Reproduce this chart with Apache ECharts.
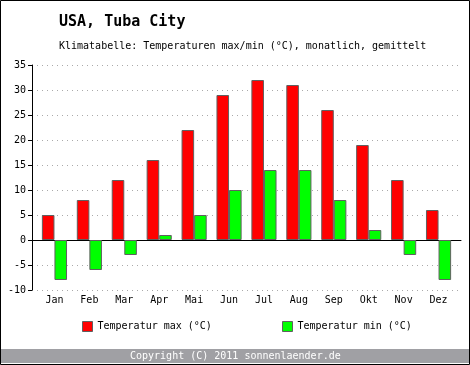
<!DOCTYPE html>
<html><head><meta charset="utf-8">
<script src="https://cdn.jsdelivr.net/npm/echarts@6/dist/echarts.min.js"></script>
<style>html,body{margin:0;padding:0;background:#fff}#c{width:470px;height:365px}</style>
</head><body><div id="c"></div>
<script>
const months = ['Jan','Feb','Mar','Apr','Mai','Jun','Jul','Aug','Sep','Okt','Nov','Dez'];
const tMax = [5,8,12,16,22,29,32,31,26,19,12,6];
const tMin = [-8,-6,-3,1,5,10,14,14,8,2,-3,-8];
const yTicks = {min:-10, max:35, interval:5};
const nameMax = 'Temperatur max (°C)';
const nameMin = 'Temperatur min (°C)';
const FONT = '"DejaVu Sans Mono", "Liberation Mono", monospace';
const chart = echarts.init(document.getElementById('c'), null, {renderer:'canvas'});
chart.setOption({
  animation:false,
  backgroundColor:'#fff',
  textStyle:{fontFamily:FONT},
  title:[
    {text:'USA, Tuba City', left:59, top:15, padding:0, textStyle:{fontFamily:FONT, fontSize:15, fontWeight:'bold', color:'#000'}},
    {text:'Klimatabelle: Temperaturen max/min (°C), monatlich, gemittelt', left:59, top:41, padding:0, textStyle:{fontFamily:FONT, fontSize:10, fontWeight:'normal', color:'#000'}},
    {text:'Copyright (C) 2011 sonnenlaender.de', left:130, top:351, padding:0, textStyle:{fontFamily:FONT, fontSize:10, fontWeight:'normal', color:'#fff'}}
  ],
  legend:[
    {data:[nameMax], left:82, top:321, padding:0, itemWidth:10, itemHeight:10, itemGap:0, icon:'rect',
     itemStyle:{borderColor:'#606060', borderWidth:1}, textStyle:{fontFamily:FONT, fontSize:10, color:'#000'}},
    {data:[nameMin], left:282, top:321, padding:0, itemWidth:10, itemHeight:10, itemGap:0, icon:'rect',
     itemStyle:{borderColor:'#606060', borderWidth:1}, textStyle:{fontFamily:FONT, fontSize:10, color:'#000'}}
  ],
  grid:[
    {left:32, right:9, top:65, bottom:75},
    {left:37, right:14, top:65, bottom:75}
  ],
  xAxis:[
    {type:'value', gridIndex:0, min:0, max:1, show:true,
     axisLine:{show:true, onZero:true, lineStyle:{color:'#000', width:1}},
     axisTick:{show:false}, axisLabel:{show:false}, splitLine:{show:false}},
    {type:'category', gridIndex:1, data:months, position:'bottom',
     axisLine:{show:false, onZero:false}, axisTick:{show:false},
     axisLabel:{color:'#000', fontFamily:FONT, fontSize:10, margin:5},
     splitLine:{show:false}}
  ],
  yAxis:[
    {type:'value', gridIndex:0, min:yTicks.min, max:yTicks.max, interval:yTicks.interval,
     axisLine:{show:true, onZero:false, lineStyle:{color:'#000'}},
     axisTick:{show:true, length:4, lineStyle:{color:'#000'}},
     axisLabel:{color:'#000', fontFamily:FONT, fontSize:10, margin:6},
     splitLine:{show:true, lineStyle:{color:'#aaa', type:[1,4], width:1}}},
    {type:'value', gridIndex:1, min:yTicks.min, max:yTicks.max, interval:yTicks.interval, show:false,
     splitLine:{show:false}}
  ],
  series:[
    {name:nameMax, type:'bar', xAxisIndex:1, yAxisIndex:1, data:tMax, barGap:'0%', barCategoryGap:'28%',
     itemStyle:{color:'#ff0000', borderColor:'#606060', borderWidth:1}},
    {name:nameMin, type:'bar', xAxisIndex:1, yAxisIndex:1, data:tMin, barGap:'0%', barCategoryGap:'28%',
     itemStyle:{color:'#00ff00', borderColor:'#606060', borderWidth:1}}
  ],
  graphic:[
    {type:'rect', shape:{x:1, y:349, width:468, height:14}, style:{fill:'#a0a0a4'}, z:-1},
    {type:'rect', shape:{x:0.5, y:0.5, width:469, height:364}, style:{fill:null, stroke:'#000', lineWidth:1}, z:100}
  ]
});
</script></body></html>
